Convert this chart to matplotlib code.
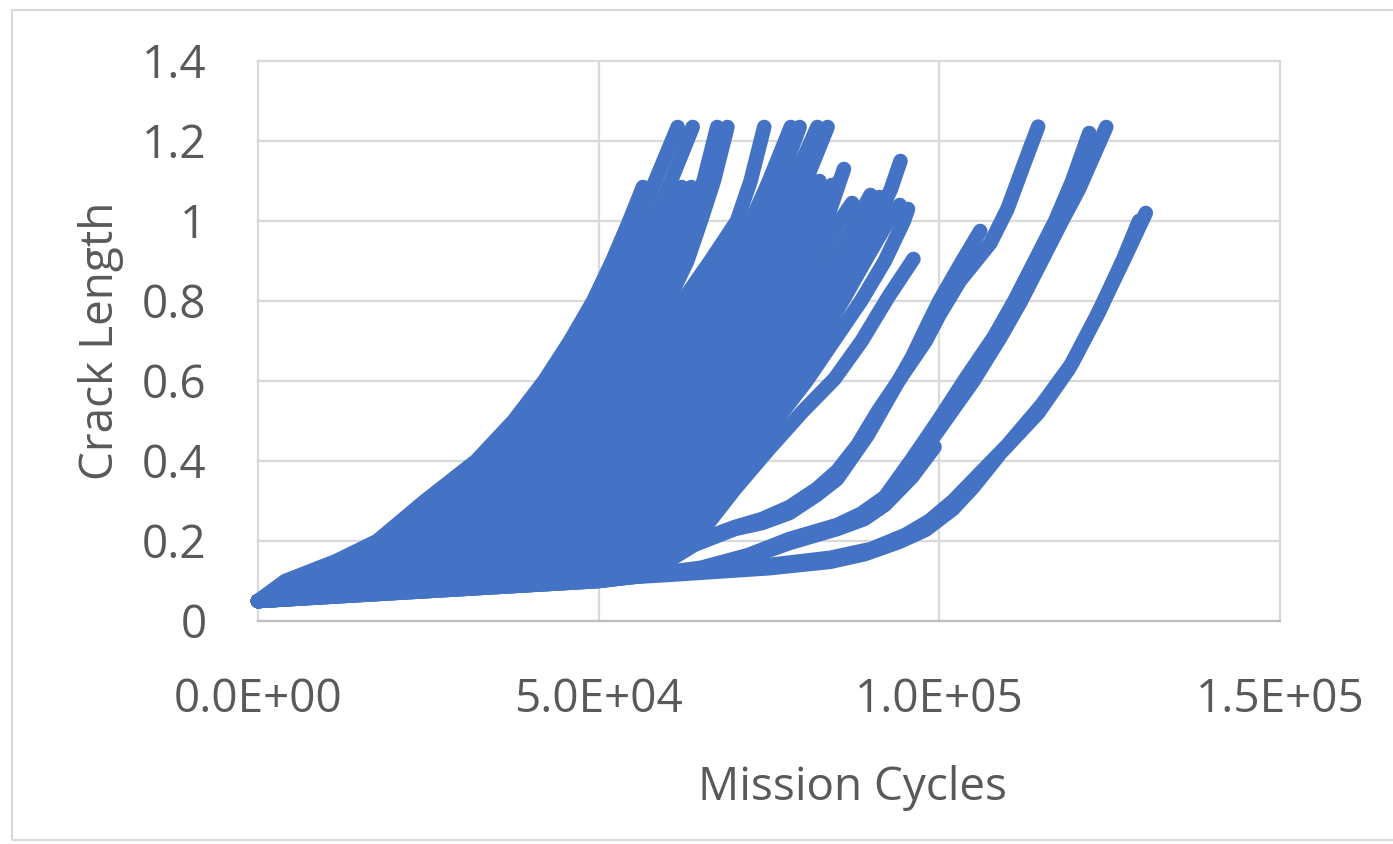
import matplotlib
matplotlib.use("Agg")
import matplotlib.pyplot as plt
from matplotlib.patches import Rectangle

# crack length levels shared by the dense group of runs
crack_levels = [0.05, 0.10, 0.15, 0.20, 0.30, 0.40, 0.50, 0.60, 0.70, 0.80, 0.90, 1.00]

# kilo-cycles at which each run of the dense group reaches crack_levels
fan_00 = [0, 4.0, 11.5, 17.5, 24.5, 32.0, 37.5, 42.0, 45.8, 49.2, 52.0, 54.5]
fan_01 = [0, 5.7, 13.7, 19.6, 26.5, 33.9, 39.3, 43.8, 47.5, 50.8, 53.5, 55.8]
fan_02 = [0, 7.4, 15.8, 21.7, 28.5, 35.8, 41.2, 45.7, 49.4, 52.7, 55.5, 58.0]
fan_03 = [0, 9.1, 18.0, 23.9, 30.6, 37.6, 43.0, 47.5, 51.1, 54.4, 57.2, 59.8]
fan_04 = [0, 10.8, 20.2, 26.0, 32.6, 39.5, 44.8, 49.3, 52.9, 56.4, 59.2, 61.6]
fan_05 = [0, 12.6, 22.4, 28.1, 34.6, 41.4, 46.7, 51.2, 55.0, 58.2, 61.0, 63.3]
fan_06 = [0, 14.3, 24.5, 30.2, 36.6, 43.3, 48.5, 53.0, 56.8, 60.2, 63.0, 65.0]
fan_07 = [0, 16.0, 26.7, 32.3, 38.6, 45.2, 50.3, 54.8, 58.6, 62.3, 66.4, 70.3]
fan_08 = [0, 17.7, 28.9, 34.5, 40.7, 47.0, 52.1, 56.6, 60.6, 64.4, 68.5, 72.4]
fan_09 = [0, 19.4, 31.0, 36.6, 42.7, 48.9, 54.0, 58.5, 62.6, 66.5, 70.3, 74.0]
fan_10 = [0, 21.1, 33.2, 38.7, 44.7, 50.8, 55.8, 60.3, 64.5, 68.4, 72.1, 75.7]
fan_11 = [0, 22.8, 35.4, 40.8, 46.7, 52.7, 57.6, 62.1, 66.4, 70.4, 74.1, 77.5]
fan_12 = [0, 24.5, 37.5, 42.9, 48.7, 54.6, 59.5, 64.0, 68.2, 72.1, 75.7, 79.0]
fan_13 = [0, 26.2, 39.7, 45.1, 50.8, 56.4, 61.3, 65.8, 70.0, 73.9, 77.5, 80.7]
fan_14 = [0, 27.9, 41.9, 47.2, 52.8, 58.3, 63.1, 67.6, 71.7, 75.5, 79.0, 82.2]
fan_15 = [0, 29.7, 44.1, 49.3, 54.8, 60.2, 65.0, 69.5, 73.5, 77.2, 80.6, 83.4]
fan_16 = [0, 31.4, 46.2, 51.4, 56.8, 62.1, 66.8, 71.3, 75.2, 78.9, 82.3, 85.4]
fan_17 = [0, 33.1, 48.4, 53.5, 58.8, 64.0, 68.6, 73.1, 77.2, 81.0, 84.6, 87.8]
fan_18 = [0, 34.8, 50.6, 55.7, 60.9, 65.8, 70.4, 74.9, 78.8, 82.5, 86.0, 89.3]
fan_19 = [0, 36.5, 52.7, 57.8, 62.9, 67.7, 72.3, 76.8, 80.6, 84.2, 87.6, 90.8]
fan_20 = [0, 38.2, 54.9, 59.9, 64.9, 69.6, 74.1, 78.6, 82.3, 85.8, 89.1, 92.5]
fan_21 = [0, 40.0, 57.0, 62.0, 67.0, 71.5, 76.0, 80.5, 84.5, 88.5, 92.0, 94.8]

# last points of the same runs above a = 1.0 (kilo-cycles, crack length)
tail_00 = [(56.5, 1.085)]
tail_01 = [(58.3, 1.10), (61.6, 1.235)]
tail_02 = [(60.6, 1.10), (63.8, 1.235)]
tail_03 = [(62.2, 1.085)]
tail_04 = [(63.6, 1.085)]
tail_05 = [(65.4, 1.10), (67.4, 1.235)]
tail_06 = [(66.9, 1.10), (68.9, 1.235)]
tail_07 = [(72.3, 1.10), (74.3, 1.235)]
tail_08 = [(75.0, 1.10), (78.2, 1.235)]
tail_09 = [(76.6, 1.10), (79.5, 1.235)]
tail_10 = [(78.6, 1.10), (82.1, 1.235)]
tail_11 = [(80.4, 1.10), (83.6, 1.235)]
tail_12 = [(82.4, 1.10)]
tail_13 = [(84.2, 1.09)]
tail_14 = [(85.3, 1.10)]
tail_15 = [(86.0, 1.13)]
tail_16 = [(87.2, 1.045)]
tail_17 = [(89.9, 1.065)]
tail_18 = [(91.2, 1.06)]
tail_19 = [(92.9, 1.08), (94.3, 1.15)]
tail_20 = [(94.2, 1.04)]
tail_21 = [(95.4, 1.03)]

fans = [fan_00, fan_01, fan_02, fan_03, fan_04, fan_05, fan_06, fan_07,
        fan_08, fan_09, fan_10, fan_11, fan_12, fan_13, fan_14, fan_15,
        fan_16, fan_17, fan_18, fan_19, fan_20, fan_21]
tails = [tail_00, tail_01, tail_02, tail_03, tail_04, tail_05, tail_06, tail_07,
         tail_08, tail_09, tail_10, tail_11, tail_12, tail_13, tail_14, tail_15,
         tail_16, tail_17, tail_18, tail_19, tail_20, tail_21]

# runs that split off to the right (kilo-cycles, crack length)
run_f = [(0, 0.05), (30, 0.085), (50, 0.11), (60, 0.15), (64.5, 0.21), (70, 0.33), (75, 0.43),
         (80, 0.525), (84.6, 0.605), (88.6, 0.70), (92.5, 0.81), (96.2, 0.905)]
run_c = [(0, 0.05), (30, 0.085), (50, 0.11), (60, 0.15), (64.5, 0.20), (70, 0.235), (74, 0.255),
         (78, 0.285), (82, 0.33), (85, 0.375), (88, 0.44), (91, 0.525), (94, 0.60), (98, 0.70),
         (100, 0.765), (103, 0.85), (107.5, 0.945), (110, 1.03), (112.6, 1.15), (114.5, 1.236)]
run_d = [(0, 0.05), (30, 0.085), (50, 0.11), (60, 0.148), (64, 0.19), (70, 0.23), (74, 0.245),
         (78, 0.27), (82, 0.315), (85, 0.355), (89.5, 0.465), (93, 0.57), (96, 0.66), (98.4, 0.745),
         (100, 0.80), (103.2, 0.895), (106, 0.975)]
run_e = [(0, 0.05), (30, 0.08), (50, 0.10), (65, 0.13), (72, 0.158), (78, 0.195), (85, 0.23),
         (89, 0.255), (92, 0.29), (96, 0.36), (99.3, 0.435)]
run_b1 = [(0, 0.05), (30, 0.08), (50, 0.10), (65, 0.13), (72, 0.16), (78, 0.20), (85, 0.235),
          (88.5, 0.26), (92, 0.30), (96, 0.385), (100, 0.48), (105, 0.60), (109, 0.71), (112, 0.80),
          (115, 0.90), (118, 1.00), (120.5, 1.08), (124.5, 1.235)]
run_b2 = [(0, 0.05), (30, 0.08), (50, 0.10), (65, 0.133), (72, 0.165), (78, 0.205), (85, 0.24),
          (88.5, 0.268), (92, 0.31), (96, 0.405), (100, 0.505), (104, 0.61), (108, 0.71), (111, 0.80),
          (114, 0.90), (117, 1.00), (119.5, 1.10), (122, 1.22)]
run_a1 = [(0, 0.05), (20, 0.072), (40, 0.095), (60, 0.115), (75, 0.132), (84, 0.148), (89, 0.167),
          (94, 0.197), (98, 0.228), (102, 0.28), (105, 0.335), (109, 0.42), (114.5, 0.52), (119, 0.63),
          (123, 0.76), (127, 0.90), (130.3, 1.02)]
run_a2 = [(0, 0.05), (20, 0.075), (40, 0.098), (60, 0.12), (75, 0.14), (84, 0.158), (90, 0.18),
          (95, 0.215), (98.5, 0.25), (102, 0.3), (106, 0.37), (110, 0.44), (115, 0.54), (119.5, 0.645),
          (123.5, 0.775), (127, 0.905), (129.3, 1.0)]
side_runs = [run_f, run_c, run_d, run_e, run_b1, run_b2, run_a1, run_a2]

x_ticks = [0, 50000, 100000, 150000]
x_tick_labels = ['0.0E+00', '5.0E+04', '1.0E+05', '1.5E+05']
y_ticks = [0, 0.2, 0.4, 0.6, 0.8, 1.0, 1.2, 1.4]
y_tick_labels = ['0', '0.2', '0.4', '0.6', '0.8', '1', '1.2', '1.4']

blue = '#4472C4'
grey_text = '#595959'
grid_col = '#D9D9D9'

plt.rcParams['font.family'] = ['Open Sans', 'DejaVu Sans']

W, H = 1393, 844
fig = plt.figure(figsize=(W / 100, H / 100), dpi=100)
ax = fig.add_axes([258 / W, 1 - 621 / H, (1280 - 258) / W, (621 - 61) / H])

line_kw = dict(color=blue, lw=10.5, solid_capstyle='round', solid_joinstyle='round', clip_on=False)

for fan, tail in zip(fans, tails):
    xs = [k * 1000 for k in fan] + [k * 1000 for k, a in tail]
    ys = crack_levels + [a for k, a in tail]
    ax.plot(xs, ys, **line_kw)

for run in side_runs:
    ax.plot([k * 1000 for k, a in run], [a for k, a in run], **line_kw)

ax.set_xlim(0, 150000)
ax.set_ylim(0, 1.4)
ax.set_xticks(x_ticks)
ax.set_xticklabels(x_tick_labels)
ax.set_yticks(y_ticks)
ax.set_yticklabels(y_tick_labels)
ax.tick_params(axis='x', length=0, pad=40, labelsize=33, labelcolor=grey_text)
ax.tick_params(axis='y', length=0, pad=37, labelsize=33, labelcolor=grey_text)

ax.grid(True, color=grid_col, lw=1.6)
ax.set_axisbelow(True)
for gl in ax.get_xgridlines() + ax.get_ygridlines():
    gl.set_clip_on(False)
for side in ['top', 'right', 'left']:
    ax.spines[side].set_visible(False)
ax.spines['bottom'].set_color('#BFBFBF')
ax.spines['bottom'].set_linewidth(1.6)

fig.text(853 / W, 1 - 800 / H, 'Mission Cycles', ha='center', va='baseline',
         fontsize=33, color=grey_text)
fig.text(101 / W, 1 - 341 / H, 'Crack Length', ha='center', va='center', rotation=90,
         fontsize=33, color=grey_text)

# chart area border
fig.patches.append(Rectangle((12 / W, 1 - 840 / H), 1.2, (840 - 10) / H, fill=False,
                             edgecolor=grid_col, lw=1.5, transform=fig.transFigure))

fig.savefig('out.png', dpi=100)
